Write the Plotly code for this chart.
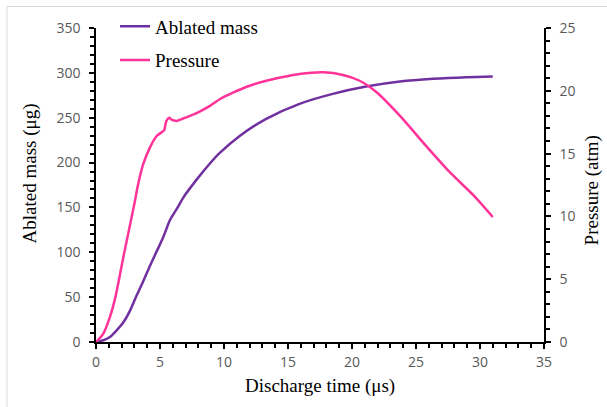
import plotly.graph_objects as go

# Data
time_mass = [0, 0.57, 1.09, 1.61, 2.14, 2.66, 3.18, 3.70, 4.22, 4.74, 5.2, 5.5, 5.78, 6.38,
             6.82, 7.86, 8.9, 9.69, 11.25, 13.3, 15.9, 18.5, 21.1, 23.75, 26.35, 28.96, 31.0]
ablated_mass = [0, 1.9, 5.6, 13, 22, 35, 52, 68, 85, 101, 115, 126, 136, 150,
                161, 181, 199, 211, 230, 248.8, 265.5, 276.6, 284.7, 290.3, 293.3, 295.1, 295.9]

time_pressure = [0, 0.57, 1.09, 1.51, 2.21, 2.94, 3.3, 3.70, 4.22, 4.74, 5.2, 5.32, 5.5,
                 5.73, 5.9, 6.3, 6.7, 7.34, 8.1, 8.9, 9.7, 10.7, 12.0, 13.3, 14.6, 15.9, 17.76,
                 19.3, 20.6, 21.9, 23.75, 25.8, 27.66, 29.5, 31.0]
pressure = [0, 0.67, 2.0, 3.55, 7.13, 10.7, 12.6, 14.2, 15.5, 16.4, 16.75, 16.85, 17.6,
            17.85, 17.7, 17.6, 17.75, 18.0, 18.35, 18.8, 19.35, 19.85, 20.4, 20.8, 21.1, 21.34,
            21.47, 21.26, 20.8, 19.9, 18.0, 15.6, 13.5, 11.67, 9.95]

x_ticks = [0, 5, 10, 15, 20, 25, 30, 35]
y1_ticks = [0, 50, 100, 150, 200, 250, 300, 350]
y2_ticks = [0, 5, 10, 15, 20, 25]

W, H = 607, 407
L, R, T, B = 96, 63, 27.5, 65.3
pw, ph = W - L - R, H - T - B

def px(xp):
    return (xp - L) / pw

def py(yp):
    return (H - B - yp) / ph

fig = go.Figure()
fig.add_trace(go.Scatter(x=time_mass, y=ablated_mass, name="Ablated mass", mode="lines",
                         line=dict(color="#7030A0", width=2.5, shape="spline", smoothing=0.8),
                         legendgroup="a"))
fig.add_trace(go.Scatter(x=time_pressure, y=pressure, name="Pressure", mode="lines",
                         line=dict(color="#FF3399", width=2.5, shape="spline", smoothing=0.7),
                         yaxis="y2", legendgroup="b"))

tickfont = dict(family="Open Sans", size=14, color="#595959")
axis_common = dict(showgrid=False, zeroline=False, showline=True, linecolor="black", linewidth=1.5,
                   ticks="outside", ticklen=5, tickwidth=1.5, tickcolor="black", tickfont=tickfont)

fig.update_layout(
    width=W, height=H,
    margin=dict(l=L, r=R, t=T, b=B, autoexpand=False),
    paper_bgcolor="white", plot_bgcolor="white",
    xaxis=dict(range=[0, 35], tickvals=x_ticks, ticklabelstandoff=1,
               minor=dict(dtick=1, ticks="outside", ticklen=4, tickwidth=1.5, tickcolor="black"),
               **axis_common),
    yaxis=dict(range=[0, 350], tickvals=y1_ticks, ticklabelstandoff=6,
               minor=dict(dtick=10, ticks="outside", ticklen=4, tickwidth=1.5, tickcolor="black"),
               **axis_common),
    yaxis2=dict(range=[0, 25], tickvals=y2_ticks, overlaying="y", side="right", ticklabelstandoff=6,
                minor=dict(dtick=1, ticks="outside", ticklen=4, tickwidth=1.5, tickcolor="black"),
                **axis_common),
    showlegend=True,
    legend=dict(x=px(115), y=py(7), xanchor="left", yanchor="top",
                font=dict(family="Liberation Serif", size=19, color="black"),
                bgcolor="rgba(0,0,0,0)", traceorder="grouped", tracegroupgap=6,
                itemwidth=30),
    shapes=[dict(type="rect", xref="paper", yref="paper",
                 x0=px(7), y0=py(420), x1=px(620), y1=py(6),
                 line=dict(color="#D9D9D9", width=1), layer="below")],
    annotations=[
        dict(text="Discharge time (μs)", xref="paper", yref="paper", x=0.5, y=py(386),
             xanchor="center", yanchor="middle", showarrow=False,
             font=dict(family="Liberation Serif", size=19, color="black")),
        dict(text="Ablated mass (μg)", xref="paper", yref="paper", x=px(30), y=py(173),
             xanchor="center", yanchor="middle", showarrow=False, textangle=-90,
             font=dict(family="Liberation Serif", size=19, color="black")),
        dict(text="Pressure (atm)", xref="paper", yref="paper", x=px(592), y=py(190),
             xanchor="center", yanchor="middle", showarrow=False, textangle=-90,
             font=dict(family="Liberation Serif", size=19, color="black")),
    ],
)

fig.write_html("out.html", config={"displayModeBar": False},
               post_script="document.body.style.margin='0';document.body.style.overflow='hidden';")
